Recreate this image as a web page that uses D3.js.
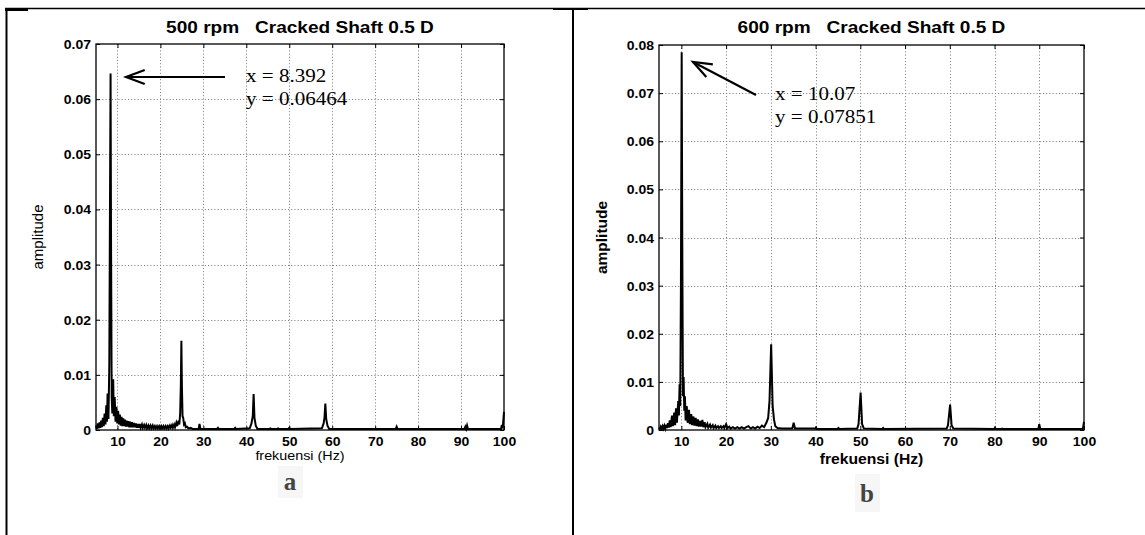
<!DOCTYPE html>
<html>
<head>
<meta charset="utf-8">
<script src="https://cdn.jsdelivr.net/npm/d3@7"></script>
<style>
  html, body { margin: 0; padding: 0; background: #fff; }
  svg { display: block; }
  text { white-space: pre; }
  .tick-lbl { font-family: Arial, "Liberation Sans", sans-serif; font-weight: bold; font-size: 12.5px; }
  .title { font-family: Arial, "Liberation Sans", sans-serif; font-weight: bold; font-size: 17px; }
  .note { font-family: "Times New Roman", "Liberation Serif", serif; font-size: 19.5px; }
</style>
</head>
<body>
<div id="chart"></div>
<script>
// ---- data ----
const freqTicks = [10, 20, 30, 40, 50, 60, 70, 80, 90, 100];
const ampTicksA = [0, 0.01, 0.02, 0.03, 0.04, 0.05, 0.06, 0.07];
const ampTicksB = [0, 0.01, 0.02, 0.03, 0.04, 0.05, 0.06, 0.07, 0.08];
const titles    = ['500 rpm   Cracked Shaft 0.5 D', '600 rpm   Cracked Shaft 0.5 D'];
const peakA     = {x: 8.392, y: 0.06464, label: ['x = 8.392', 'y = 0.06464']};
const peakB     = {x: 10.07, y: 0.07851, label: ['x = 10.07', 'y = 0.07851']};

// [frequency Hz, amplitude]
const spectrumA = [
  [5.0,0.0008],[5.2,0.0002],[5.4,0.0012],[5.6,0.0003],[5.8,0.0014],[6.0,0.0004],[6.2,0.0017],[6.4,0.0005],
  [6.6,0.0022],[6.8,0.0007],[7.0,0.0030],[7.2,0.0010],[7.4,0.0045],[7.55,0.0015],[7.7,0.0066],[7.9,0.0020],
  [8.1,0.012],[8.25,0.040],[8.392,0.06464],[8.5,0.035],[8.65,0.006],[8.8,0.0030],[9.0,0.0092],[9.15,0.0025],
  [9.35,0.0060],[9.55,0.0015],[9.75,0.0042],[9.95,0.0012],[10.15,0.0035],[10.35,0.0010],[10.55,0.0028],
  [10.75,0.0008],[10.95,0.0024],[11.15,0.0007],[11.35,0.0021],[11.55,0.0007],[11.75,0.0019],[11.95,0.0006],
  [12.15,0.0017],[12.35,0.0006],[12.55,0.0016],[12.75,0.0005],[12.95,0.0015],[13.15,0.0005],[13.4,0.0014],
  [13.6,0.0005],[13.85,0.0013],[14.05,0.0005],[14.3,0.0012],[14.5,0.0004],[14.75,0.0011],[14.95,0.0004],
  [15.2,0.0011],[15.4,0.0004],[15.7,0.0010],[15.9,0.0004],[16.2,0.0009],[16.4,0.0004],[16.7,0.0009],
  [16.9,0.0003],[17.2,0.0008],[17.4,0.0003],[17.7,0.0008],[17.9,0.0003],[18.2,0.0008],[18.4,0.0003],
  [18.7,0.0007],[18.9,0.0003],[19.2,0.0007],[19.4,0.0003],[19.7,0.0007],[19.9,0.0003],[20.2,0.0007],
  [20.4,0.0003],[20.7,0.0007],[20.9,0.0003],[21.2,0.0007],[21.4,0.0003],[21.7,0.0007],[21.9,0.0003],
  [22.2,0.0008],[22.4,0.0004],[22.7,0.0009],[22.9,0.0004],[23.2,0.0010],[23.4,0.0005],[23.7,0.0013],
  [23.9,0.0007],[24.2,0.0017],[24.4,0.0010],[24.6,0.0030],[24.75,0.008],[24.88,0.0162],[25.0,0.008],
  [25.15,0.0025],[25.3,0.0022],[25.5,0.0010],[25.7,0.0012],[25.9,0.0005],[26.2,0.0006],[26.5,0.0003],
  [27.0,0.0004],[27.5,0.0002],[28.9,0.0002],[29.1,0.0011],[29.3,0.0002],[33.2,0.0002],[33.4,0.0004],
  [33.6,0.0002],[37.2,0.0002],[37.4,0.0004],[37.6,0.0002],[40.8,0.0003],[41.2,0.0012],[41.5,0.0025],
  [41.7,0.0065],[41.9,0.0022],[42.2,0.0008],[42.6,0.0002],[45.4,0.0002],[45.6,0.0003],[45.8,0.0002],
  [47.2,0.0002],[47.4,0.0003],[47.6,0.0002],[49.8,0.0002],[50.0,0.0004],[50.2,0.0002],[57.6,0.0003],
  [58.0,0.0012],[58.2,0.0022],[58.4,0.0048],[58.6,0.0020],[58.9,0.0008],[59.3,0.0002],[74.8,0.0002],
  [75.0,0.0006],[75.2,0.0002],[90.8,0.0002],[91.0,0.0006],[91.2,0.0002],[91.4,0.0008],[91.6,0.0002],
  [99.3,0.0002],[99.5,0.0009],[99.7,0.0003],[100,0.0033]
];
const spectrumB = [
  [5.0,0.0005],[5.2,0.0002],[5.4,0.0007],[5.6,0.0003],[5.8,0.0008],[6.0,0.0003],[6.2,0.0009],[6.4,0.0003],
  [6.6,0.0011],[6.8,0.0004],[7.0,0.0014],[7.2,0.0005],[7.4,0.0020],[7.6,0.0006],[7.9,0.0030],[8.1,0.0008],
  [8.4,0.0036],[8.6,0.0010],[8.8,0.0045],[9.0,0.0015],[9.3,0.0060],[9.45,0.0030],[9.6,0.0095],[9.75,0.0050],
  [9.9,0.030],[10.07,0.07851],[10.2,0.040],[10.35,0.007],[10.5,0.0110],[10.65,0.0040],[10.8,0.0070],
  [10.95,0.0020],[11.2,0.0050],[11.4,0.0015],[11.7,0.0042],[11.9,0.0012],[12.2,0.0033],[12.4,0.0010],
  [12.7,0.0028],[12.9,0.0009],[13.2,0.0025],[13.4,0.0008],[13.7,0.0022],[13.9,0.0007],[14.2,0.0019],
  [14.4,0.0007],[14.7,0.0021],[14.9,0.0006],[15.2,0.0016],[15.4,0.0006],[15.8,0.0013],[16.0,0.0005],
  [16.4,0.0011],[16.6,0.0005],[17.0,0.0010],[17.2,0.0004],[17.6,0.0009],[17.8,0.0004],[18.2,0.0008],
  [18.4,0.0004],[18.8,0.0008],[19.0,0.0004],[19.4,0.0008],[19.6,0.0004],[20.0,0.0012],[20.3,0.0004],
  [20.7,0.0007],[21.0,0.0003],[21.5,0.0006],[22.0,0.0003],[22.5,0.0006],[23.0,0.0003],[23.5,0.0006],
  [24.0,0.0003],[24.5,0.0006],[25.0,0.0008],[25.5,0.0003],[26.0,0.0006],[26.5,0.0003],[27.0,0.0007],
  [27.5,0.0004],[28.0,0.0009],[28.5,0.0006],[29.0,0.0015],[29.4,0.0025],[29.7,0.006],[30.07,0.0178],
  [30.4,0.005],[30.7,0.0022],[31.0,0.0008],[31.5,0.0004],[32.5,0.0003],[34.8,0.0003],[35.1,0.0015],
  [35.4,0.0003],[39.9,0.0003],[40.1,0.0005],[40.3,0.0002],[44.9,0.0002],[45.1,0.0004],[45.3,0.0002],
  [49.3,0.0003],[49.6,0.0012],[50.07,0.0078],[50.4,0.0012],[50.8,0.0003],[54.9,0.0002],[55.1,0.0004],
  [55.3,0.0002],[69.3,0.0003],[69.6,0.0010],[70.07,0.0053],[70.4,0.0010],[70.8,0.0003],[79.9,0.0002],
  [80.1,0.0004],[80.3,0.0002],[81.5,0.0002],[81.7,0.0003],[81.9,0.0002],[89.8,0.0002],[90.0,0.0012],
  [90.2,0.0002],[99.6,0.0002],[99.8,0.0005],[100,0.0017]
];

const W = 1145, H = 535;
const STRETCH = 1.12;   // the source picture is a bit wider than plain Arial
const svg = d3.select('#chart').append('svg')
  .attr('width', W).attr('height', H)
  .style('background', '#fff');

function widen(sel, k) {
  sel.each(function() {
    const L = this.getComputedTextLength();
    d3.select(this).attr('textLength', L * k).attr('lengthAdjust', 'spacingAndGlyphs');
  });
}

// faint backgrounds behind the sub-figure letters (drawn first, under everything)
svg.append('rect').attr('x', 278).attr('y', 466).attr('width', 25).attr('height', 32).attr('fill', '#f6f6f6');
svg.append('rect').attr('x', 855).attr('y', 474).attr('width', 25).attr('height', 38).attr('fill', '#f6f6f6');

// page frame lines
const frame = svg.append('g').attr('stroke', '#000').attr('fill', 'none');
frame.append('line').attr('x1', 5).attr('x2', W).attr('y1', 8.5).attr('y2', 8.5).attr('stroke-width', 1.5);
frame.append('line').attr('x1', 6.5).attr('x2', 6.5).attr('y1', 8).attr('y2', H).attr('stroke-width', 2);
frame.append('line').attr('x1', 573).attr('x2', 573).attr('y1', 8).attr('y2', H).attr('stroke-width', 2);
frame.append('line').attr('x1', 5).attr('x2', 28).attr('y1', 9.5).attr('y2', 9.5).attr('stroke-width', 3);
frame.append('line').attr('x1', 553).attr('x2', 588).attr('y1', 9).attr('y2', 9).attr('stroke-width', 2);

function panel(cfg) {
  const {left, right, top, bottom, yMax, yTicks, data, peak, title, boldLabels, note, arrow,
         yLabelX, labelSize, yLabelSize, xLabelY} = cfg;
  const x = d3.scaleLinear().domain([5, 100]).range([left, right]);
  const y = d3.scaleLinear().domain([0, yMax]).range([bottom, top]);
  const g = svg.append('g');

  // dotted grid
  const grid = g.append('g').attr('stroke', '#777').attr('stroke-width', 1).attr('stroke-dasharray', '1,2.2');
  grid.selectAll('.gx').data(freqTicks.filter(d => d < 100)).enter().append('line')
    .attr('x1', d => Math.round(x(d)) + 0.5).attr('x2', d => Math.round(x(d)) + 0.5)
    .attr('y1', top).attr('y2', bottom);
  grid.selectAll('.gy').data(yTicks.filter(d => d > 0 && d < yMax)).enter().append('line')
    .attr('y1', d => Math.round(y(d)) + 0.5).attr('y2', d => Math.round(y(d)) + 0.5)
    .attr('x1', left).attr('x2', right);

  // axes (MATLAB style, ticks inside)
  const xAx = g.append('g').attr('transform', `translate(0,${bottom})`)
    .call(d3.axisBottom(x).tickValues(freqTicks).tickSize(-4).tickPadding(7).tickFormat(d3.format('d')));
  const yAx = g.append('g').attr('transform', `translate(${left},0)`)
    .call(d3.axisLeft(y).tickValues(yTicks).tickSize(-4).tickPadding(5).tickFormat(d => d === 0 ? '0' : d3.format('.2f')(d)));
  g.append('g').attr('transform', `translate(0,${top})`)
    .call(d3.axisTop(x).tickValues(freqTicks).tickSize(-4).tickFormat(''));
  g.append('g').attr('transform', `translate(${right},0)`)
    .call(d3.axisRight(y).tickValues(yTicks).tickSize(-4).tickFormat(''));
  g.selectAll('.domain').remove();
  g.selectAll('.tick line').attr('stroke', '#000');
  [xAx, yAx].forEach(a => a.selectAll('text').attr('class', 'tick-lbl').attr('fill', '#000'));
  yAx.selectAll('text').attr('dy', '0.36em');
  widen(xAx.selectAll('text'), STRETCH);
  widen(yAx.selectAll('text'), STRETCH);

  g.append('rect').attr('x', left).attr('y', top).attr('width', right - left).attr('height', bottom - top)
    .attr('fill', 'none').attr('stroke', '#000').attr('stroke-width', 1.3);

  // spectrum
  const line = d3.line().x(d => x(d[0])).y(d => y(d[1]));
  g.append('path').datum(data).attr('d', line)
    .attr('fill', 'none').attr('stroke', '#000').attr('stroke-width', 2).attr('stroke-linejoin', 'miter');

  // titles and labels
  const tt = g.append('text').attr('class', 'title').attr('x', (left + right) / 2).attr('y', 33)
    .attr('text-anchor', 'middle').text(title);
  widen(tt, STRETCH);
  const xl = g.append('text').attr('x', (left + right) / 2).attr('y', xLabelY).attr('text-anchor', 'middle')
    .style('font-family', 'Arial, "Liberation Sans", sans-serif').style('font-size', labelSize + 'px')
    .style('font-weight', boldLabels ? 'bold' : 'normal').text('frekuensi (Hz)');
  widen(xl, STRETCH);
  g.append('text').attr('transform', `translate(${yLabelX},${(top + bottom) / 2}) rotate(-90)`)
    .attr('text-anchor', 'middle')
    .style('font-family', 'Arial, "Liberation Sans", sans-serif').style('font-size', yLabelSize + 'px')
    .style('font-weight', boldLabels ? 'bold' : 'normal').text('amplitude');

  // data tip annotation
  const nt = g.append('text').attr('class', 'note').attr('x', note.x).attr('y', note.y);
  peak.label.forEach((s, i) => nt.append('tspan').attr('x', note.x).attr('dy', i ? 23 : 0).text(s));
  widen(nt.selectAll('tspan'), 1.08);
  const [tx, ty] = arrow.tail, [hx, hy] = arrow.head;
  const ang = Math.atan2(ty - hy, tx - hx);
  const armL = 20, spread = 0.36;
  const ar = g.append('g').attr('stroke', '#000').attr('stroke-width', 2.2).attr('fill', 'none');
  ar.append('line').attr('x1', tx).attr('y1', ty).attr('x2', hx).attr('y2', hy);
  ar.append('path').attr('d',
    `M${hx + armL * Math.cos(ang + spread)},${hy + armL * Math.sin(ang + spread)}L${hx},${hy}` +
    `L${hx + armL * Math.cos(ang - spread)},${hy + armL * Math.sin(ang - spread)}`);
}

panel({left: 96, right: 504, top: 44, bottom: 430, yMax: 0.07, yTicks: ampTicksA,
  data: spectrumA, peak: peakA, title: titles[0], boldLabels: false, yLabelX: 43,
  labelSize: 12.8, yLabelSize: 15, xLabelY: 460,
  note: {x: 246, y: 82}, arrow: {tail: [225, 77], head: [126, 77]}});
panel({left: 659, right: 1084, top: 45, bottom: 430, yMax: 0.08, yTicks: ampTicksB,
  data: spectrumB, peak: peakB, title: titles[1], boldLabels: true, yLabelX: 607,
  labelSize: 14, yLabelSize: 15.5, xLabelY: 464,
  note: {x: 775, y: 100}, arrow: {tail: [756, 95], head: [693, 62]}});

// sub-figure letters
svg.append('text').attr('x', 290).attr('y', 490).attr('text-anchor', 'middle')
  .style('font-family', '"Times New Roman", "Liberation Serif", serif').style('font-weight', 'bold')
  .style('font-size', '25px').attr('fill', '#444').text('a');
svg.append('text').attr('x', 867).attr('y', 502).attr('text-anchor', 'middle')
  .style('font-family', '"Times New Roman", "Liberation Serif", serif').style('font-weight', 'bold')
  .style('font-size', '25px').attr('fill', '#444').text('b');
</script>
</body>
</html>
